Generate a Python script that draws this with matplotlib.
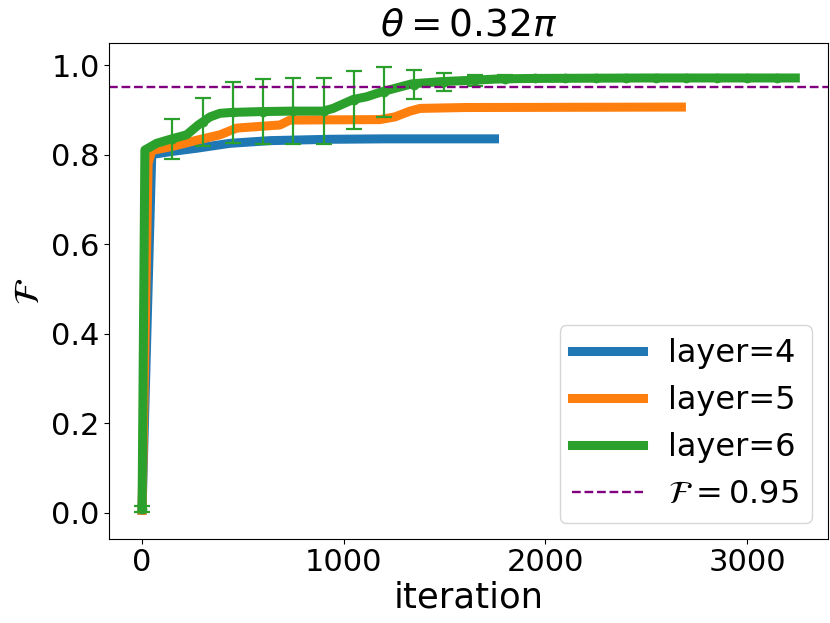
import matplotlib
matplotlib.use("Agg")
import matplotlib.pyplot as plt

# layer=4 (blue)
it4 = [0, 48, 150, 271, 330, 436, 634, 932, 1200, 1748]
f4 = [0.005, 0.800, 0.807, 0.814, 0.818, 0.825, 0.831, 0.834, 0.835, 0.835]

# layer=5 (orange)
it5 = [0, 30, 48, 150, 272, 386, 469, 684, 734, 1180, 1254, 1329, 1379, 1600, 2675]
f5 = [0.005, 0.780, 0.809, 0.818, 0.832, 0.844, 0.859, 0.866, 0.877, 0.878, 0.884, 0.897, 0.903, 0.905, 0.906]

# layer=6 (green), mean curve
it6 = [0, 14, 72, 147, 221, 279, 337, 386, 444, 600, 749, 898, 947, 1047, 1114,
       1188, 1280, 1339, 1488, 1642, 1775, 1939, 2500, 3240]
f6 = [0.008, 0.810, 0.825, 0.835, 0.844, 0.866, 0.884, 0.892, 0.894, 0.896, 0.897, 0.897,
      0.903, 0.923, 0.929, 0.940, 0.951, 0.958, 0.963, 0.966, 0.969, 0.970, 0.971, 0.971]

# layer=6 error bars every 150 iterations
err_it = [0, 150, 300, 450, 600, 750, 900, 1050, 1200, 1350, 1500, 1650, 1800, 1950,
          2100, 2250, 2400, 2550, 2700, 2850, 3000, 3150]
err_mean = [0.008, 0.835, 0.872, 0.894, 0.896, 0.897, 0.897, 0.921, 0.940, 0.956, 0.962, 0.966,
            0.969, 0.970, 0.970, 0.970, 0.971, 0.971, 0.971, 0.971, 0.971, 0.971]
err_std = [0.006, 0.044, 0.054, 0.069, 0.072, 0.073, 0.073, 0.065, 0.056, 0.033, 0.020, 0.012,
           0.008, 0.005, 0.004, 0.003, 0.003, 0.003, 0.003, 0.003, 0.003, 0.003]

threshold = 0.95

fig, ax = plt.subplots(figsize=(8.3, 6.23), dpi=100)
fig.subplots_adjust(left=0.1318, right=0.9971, top=0.9305, bottom=0.1353)

lw = 6.5
ax.plot(it4, f4, color="#1f77b4", lw=lw, label="layer=4")
ax.plot(it5, f5, color="#ff7f0e", lw=lw, label="layer=5")
ax.plot(it6, f6, color="#2ca02c", lw=lw, label="layer=6")
ax.errorbar(err_it, err_mean, yerr=err_std, fmt="o", color="#2ca02c", ms=6,
            elinewidth=1.6, capsize=6, capthick=1.6)
ax.axhline(threshold, color="purple", ls="--", lw=1.7, label=r"$\mathcal{F}=0.95$")

ax.set_xlim(-162, 3400)
ax.set_ylim(-0.0585, 1.0485)
ax.set_xticks([0, 1000, 2000, 3000])
ax.set_yticks([0.0, 0.2, 0.4, 0.6, 0.8, 1.0])
ax.tick_params(labelsize=22)

ax.set_xlabel("iteration", fontsize=25.5, labelpad=2)
ax.set_ylabel(r"$\mathcal{F}$", fontsize=25.5)
ax.set_title(r"$\theta=0.32\pi$", fontsize=27, pad=5)
ax.legend(loc="lower right", fontsize=23, handlelength=2.2)

fig.savefig("out.png", dpi=100)
